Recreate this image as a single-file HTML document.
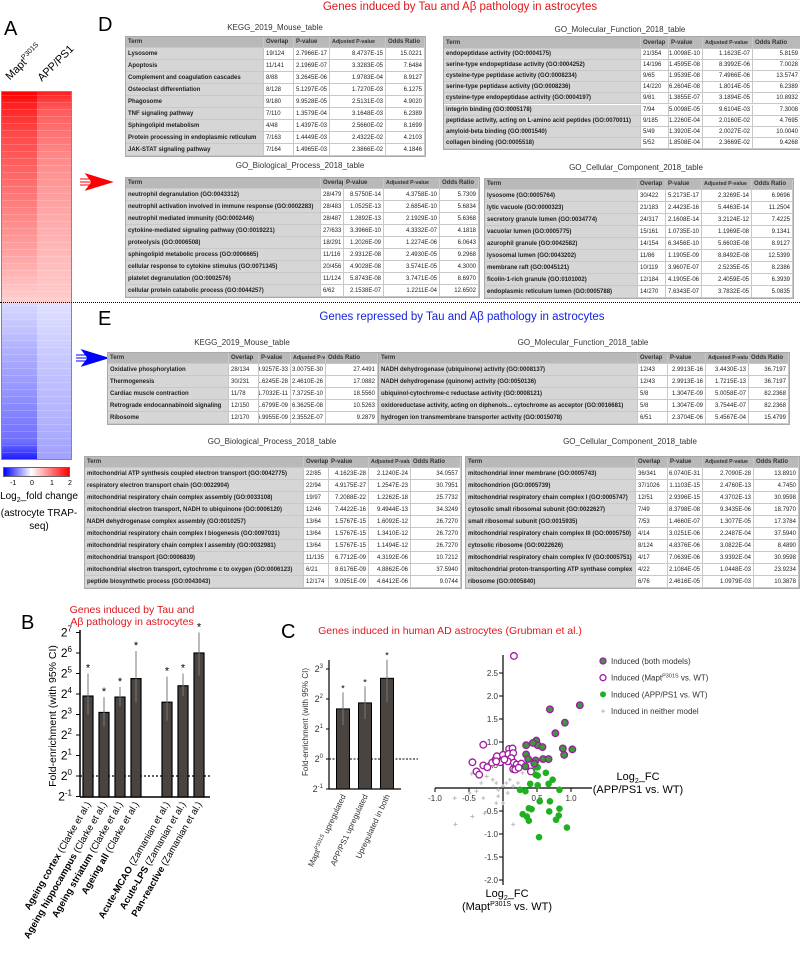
<!DOCTYPE html>
<html><head><meta charset="utf-8">
<style>
html,body{margin:0;padding:0;background:#fff;}
body{width:800px;height:960px;position:relative;overflow:hidden;font-family:"Liberation Sans",sans-serif;}
.abs{position:absolute;}
.tt{position:absolute;font-size:8px;color:#333;white-space:nowrap;transform:translateX(-50%);}
.tbl{position:absolute;font-size:6px;color:#222;border:1px solid #aaa;background:#fff;}
.row{position:absolute;left:0;display:flex;}
.cell{box-sizing:border-box;height:100%;border-right:1px solid #c8c8c8;border-bottom:1px solid #c8c8c8;white-space:nowrap;overflow:hidden;padding:0 2px;display:flex;align-items:center;}
.hd{background:#b9b9b9;font-weight:bold;color:#333;}
.term{background:#d6d6d6;font-weight:bold;}
.num{justify-content:flex-end;}
.sec{position:absolute;font-size:11.5px;white-space:nowrap;transform:translateX(-50%);}
.lbl{position:absolute;font-size:20px;}
</style></head>
<body>
<div class="lbl" style="left:4px;top:18px;">A</div>
<div class="lbl" style="left:98px;top:14px;">D</div>
<div class="lbl" style="left:98px;top:308px;">E</div>
<div class="lbl" style="left:21px;top:612px;">B</div>
<div class="lbl" style="left:281px;top:621px;">C</div>

<div class="sec" style="left:460px;top:1px;color:#e0161b;">Genes induced by Tau and Aβ pathology in astrocytes</div>
<div class="sec" style="left:462px;top:311px;color:#1424e0;">Genes repressed by Tau and Aβ pathology in astrocytes</div>

<!-- heatmap -->
<div class="abs" style="left:12px;top:70px;font-size:11px;transform:rotate(-45deg);transform-origin:0 100%;white-space:nowrap;">Mapt<sup style="font-size:7px">P301S</sup></div>
<div class="abs" style="left:44px;top:72px;font-size:11px;transform:rotate(-45deg);transform-origin:0 100%;white-space:nowrap;">APP/PS1</div>
<div class="abs" style="left:1px;top:91px;width:71px;height:369px;border:1px solid #888;box-sizing:border-box;overflow:hidden;">
  <div class="abs" style="left:0;top:0;width:35px;height:211px;background:linear-gradient(#ff0000 0%,#ff2020 6%,#ff4848 20%,#ff7878 50%,#ffa8a8 80%,#ffd0d0 100%);"></div>
  <div class="abs" style="left:35px;top:0;width:36px;height:211px;background:linear-gradient(#ff2020 0%,#ff5a5a 8%,#ff8888 30%,#ffaaaa 60%,#ffcccc 100%);"></div>
  <div class="abs" style="left:0;top:211px;width:35px;height:158px;background:linear-gradient(#d8d8ff 0%,#b0b0ff 30%,#9090ff 60%,#6e6eff 88%,#1414ff 100%);"></div>
  <div class="abs" style="left:35px;top:211px;width:36px;height:158px;background:linear-gradient(#e0e0ff 0%,#c4c4ff 40%,#b4b4ff 70%,#a0a0ff 100%);"></div>
  <div class="abs" style="left:0;top:0;width:71px;height:369px;background:repeating-linear-gradient(rgba(255,255,255,0) 0px,rgba(255,255,255,0) 3px,rgba(255,255,255,0.18) 3px,rgba(255,255,255,0.18) 4px,rgba(255,255,255,0) 4px,rgba(255,255,255,0) 7px);"></div>
</div>
<div class="abs" style="left:0;top:302px;width:800px;border-top:1.5px dotted #000;"></div>
<div class="abs" style="left:3px;top:467px;width:67px;height:10px;border:1px solid #666;box-sizing:border-box;background:linear-gradient(90deg,#0000ff 0%,#ffffff 42%,#ff0000 100%);"></div>
<div class="abs" style="left:0;top:480px;font-size:7px;width:80px;height:10px;">
  <span class="abs" style="left:10px">-1</span><span class="abs" style="left:30px">0</span><span class="abs" style="left:50px">1</span><span class="abs" style="left:68px">2</span></div>
<div class="abs" style="left:-6px;top:490px;width:90px;text-align:center;font-size:10px;line-height:13px;white-space:nowrap;">Log<sub style="font-size:7px">2</sub>_fold change<br>(astrocyte TRAP-<br>seq)</div>

<svg class="abs" style="left:0;top:0" width="800" height="960">
  <g fill="#f00" stroke="#f00">
    <polygon points="86,174 112,182 86,190 92,182"/>
    <line x1="80" y1="179" x2="92" y2="179"/><line x1="80" y1="182" x2="92" y2="182"/><line x1="80" y1="185" x2="92" y2="185"/>
  </g>
  <g fill="#00f" stroke="#00f">
    <polygon points="82,350 108,358 82,366 88,358"/>
    <line x1="76" y1="355" x2="88" y2="355"/><line x1="76" y1="358" x2="88" y2="358"/><line x1="76" y1="361" x2="88" y2="361"/>
  </g>
  <g id="chartB"></g>
  <g id="chartC"></g>
  <g id="scatter"></g>
</svg>

<div class="sec" style="left:132px;top:604px;color:#e0161b;font-size:10.5px;text-align:center;line-height:12px;">Genes induced by Tau and<br>Aβ pathology in astrocytes</div>
<div class="sec" style="left:450px;top:625px;color:#e0161b;font-size:10.5px;">Genes induced in human AD astrocytes (Grubman et al.)</div>

<script>
// ---------- Panel B data ----------
const bCats = ["Ageing cortex","Ageing hippocampus","Ageing striatum","Ageing all","Acute-MCAO","Acute-LPS","Pan-reactive"];
const bRefs = ["(Clarke et al.)","(Clarke et al.)","(Clarke et al.)","(Clarke et al.)","(Zamanian et al.)","(Zamanian et al.)","(Zamanian et al.)"];
const bVals = [3.9, 3.1, 3.85, 4.75, 3.6, 4.4, 6.0];
const bLow = [3.0, 2.4, 3.4, 3.6, 2.7, 3.9, 4.9];
const bHigh = [5.0, 3.85, 4.35, 6.1, 4.85, 5.0, 7.0];
const bTicks = [-1,0,1,2,3,4,5,6,7];
// ---------- Panel C bar data ----------
const cCats = ["Mapt","APP/PS1 upregulated","Upregulated in both"];
const cVals = [1.67, 1.87, 2.69];
const cLow = [1.13, 1.33, 1.89];
const cHigh = [2.22, 2.42, 3.31];
const cTicks = [-1,0,1,2,3];
// ---------- Scatter data (x = APP/PS1 log2FC, y = Mapt log2FC) ----------
const bothX = [0.69,1.13,0.91,0.77,0.88,1.02,0.90,0.34,0.49,0.51,0.58,0.59,0.67,0.34,0.37,0.48,0.46,0.33,0.44];
const bothY = [1.71,1.80,1.42,1.19,0.86,0.84,0.72,0.93,1.03,0.93,0.89,0.63,0.63,0.73,0.63,0.60,0.53,0.47,0.98];
const maptX = [0.16,-0.29,-0.45,-0.39,-0.35,-0.29,-0.23,-0.16,-0.11,-0.09,-0.04,0.0,0.09,0.14,0.08,0.15,0.12,0.07,0.16,0.20,0.27,0.15,0.18,0.23,0.41,-0.10,0.02];
const maptY = [2.87,0.94,0.56,0.36,0.29,0.49,0.45,0.55,0.62,0.69,0.56,0.72,0.85,0.86,0.74,0.76,0.65,0.58,0.55,0.51,0.53,0.41,0.40,0.44,0.36,0.58,0.62];
const appX = [0.48,0.51,0.63,0.48,0.51,0.73,0.40,0.51,0.67,0.25,0.33,0.83,0.54,0.69,0.38,0.42,0.83,0.29,0.35,0.38,0.68,0.82,0.78,0.94,0.53];
const appY = [0.45,0.45,0.33,0.29,0.27,0.18,0.09,0.06,0.09,-0.04,-0.07,-0.04,-0.29,-0.29,-0.44,-0.46,-0.45,-0.57,-0.62,-0.71,-0.51,-0.60,-0.69,-0.86,-1.07];
const noneX = [-0.46,-0.32,-0.24,-0.15,-0.10,-0.07,0.0,0.05,0.10,0.15,0.22,0.29,-0.07,-0.10,0.0,-0.27,-0.45,-0.70,0.15,-0.71,-0.39,-0.29,-0.49,0.07];
const noneY = [0.31,0.11,0.25,0.18,0.11,-0.04,0.04,0.11,0.18,0.04,0.11,0.33,-0.18,-0.33,-0.33,-0.55,-0.62,-0.79,-0.79,-0.22,-0.07,-0.22,-0.11,-0.11];
const sxTicks = [-1.0,-0.5,0.5,1.0];
const syTicks = [2.5,2.0,1.5,1.0,0.5,-0.5,-1.0,-1.5,-2.0];

const NS = "http://www.w3.org/2000/svg";
function mk(parent, tag, attrs){ const e=document.createElementNS(NS,tag); for(const k in attrs) e.setAttribute(k,attrs[k]); parent.appendChild(e); return e; }

// ---------- Panel B ----------
(function(){
  const g=document.getElementById('chartB');
  const yB=v=>776-v*20.5;
  const xB=i=>88+i*16+(i>=4?15:0);
  const yax=mk(g,'line',{x1:80,y1:630,x2:80,y2:797,stroke:'#000','stroke-width':1.5});
  
  
  const xax=mk(g,'line',{x1:80,y1:797,x2:210,y2:797,stroke:'#000','stroke-width':1.5});
  
  
  bTicks.forEach(t=>{
    mk(g,'line',{x1:76,y1:yB(t),x2:80,y2:yB(t),stroke:'#000'});
    const tx=mk(g,'text',{x:72,y:yB(t)+4,'font-size':12,'text-anchor':'end','font-family':'Liberation Sans'});
    
    
    tx.innerHTML='2<tspan dy="-5" font-size="8">'+t+'</tspan>';
  });
  const dl=mk(g,'line',{x1:80,y1:yB(0),x2:210,y2:yB(0),stroke:'#000','stroke-dasharray':'2,2','stroke-width':1.2});
  
  
  const yt=mk(g,'text',{x:0,y:0,'font-size':10.5,'text-anchor':'middle','font-family':'Liberation Sans',transform:'translate(56,716) rotate(-90)'});
  
  
  yt.textContent='Fold-enrichment (with 95% CI)';
  bVals.forEach((v,i)=>{
    const x=xB(i);
    const r=mk(g,'rect',{x:x-5,y:yB(v),width:10,height:797-yB(v),fill:'#4a4440',stroke:'#000','stroke-width':1.2});
    
    
    const e=mk(g,'line',{x1:x,y1:yB(bHigh[i]),x2:x,y2:yB(bLow[i]),stroke:'#777','stroke-width':1});
    
    
    const s=mk(g,'text',{x:x,y:yB(bHigh[i])-2,'font-size':11,'text-anchor':'middle','font-family':'Liberation Sans'});
    
    
    s.textContent='*';
    const t=mk(g,'text',{x:0,y:0,'font-size':9.5,'text-anchor':'end','font-family':'Liberation Sans',transform:'translate('+(x+3)+',804) rotate(-60)'});
    
    
    t.innerHTML='<tspan font-weight="bold">'+bCats[i]+'</tspan> '+bRefs[i];
  });
})();

// ---------- Panel C bars ----------
(function(){
  const g=document.getElementById('chartC');
  const yC=v=>759-v*30;
  const xC=i=>343+i*22;
  const a1=mk(g,'line',{x1:329,y1:660,x2:329,y2:789,stroke:'#000','stroke-width':1.2});
  
  
  const a2=mk(g,'line',{x1:329,y1:789,x2:401,y2:789,stroke:'#000','stroke-width':1.2});
  
  
  cTicks.forEach(t=>{
    mk(g,'line',{x1:326,y1:yC(t),x2:329,y2:yC(t),stroke:'#000'});
    const tx=mk(g,'text',{x:323,y:yC(t)+3,'font-size':9,'text-anchor':'end','font-family':'Liberation Sans',fill:'#333'});
    
    
    tx.innerHTML='2<tspan dy="-4" font-size="6">'+t+'</tspan>';
  });
  const dl=mk(g,'line',{x1:329,y1:yC(0),x2:418,y2:yC(0),stroke:'#000','stroke-dasharray':'2,1.5','stroke-width':1});
  
  
  const yt=mk(g,'text',{x:0,y:0,'font-size':8,'text-anchor':'middle','font-family':'Liberation Sans',fill:'#333',transform:'translate(308,722) rotate(-90)'});
  
  
  yt.textContent='Fold-enrichment (with 95% CI)';
  cVals.forEach((v,i)=>{
    const x=xC(i);
    const r=mk(g,'rect',{x:x-6.5,y:yC(v),width:13,height:789-yC(v),fill:'#4a4440',stroke:'#000','stroke-width':1});
    
    
    const e=mk(g,'line',{x1:x,y1:yC(cHigh[i]),x2:x,y2:yC(cLow[i]),stroke:'#777','stroke-width':1});
    
    
    const s=mk(g,'text',{x:x,y:yC(cHigh[i])-1,'font-size':9,'text-anchor':'middle','font-family':'Liberation Sans'});
    
    
    s.textContent='*';
    const t=mk(g,'text',{x:0,y:0,'font-size':8,'text-anchor':'end','font-family':'Liberation Sans',fill:'#333',transform:'translate('+(x+3)+',796) rotate(-65)'});
    
    
    if(i===0) t.innerHTML='Mapt<tspan dy="-3" font-size="5.5">P301S</tspan><tspan dy="3"> upregulated</tspan>';
    else t.textContent=cCats[i];
  });
})();

// ---------- Scatter ----------
(function(){
  const g=document.getElementById('scatter');
  const sx=v=>503+v*68;
  const sy=v=>788-v*46;
  const ya=mk(g,'line',{x1:503,y1:655,x2:503,y2:885,stroke:'#000','stroke-width':1.2});
  
  
  const xa=mk(g,'line',{x1:435,y1:788,x2:592,y2:788,stroke:'#000','stroke-width':1.2});
  
  
  sxTicks.forEach(t=>{
    mk(g,'line',{x1:sx(t),y1:788,x2:sx(t),y2:792,stroke:'#000'});
    const tx=mk(g,'text',{x:sx(t),y:801,'font-size':8,'text-anchor':'middle','font-family':'Liberation Sans',fill:'#333'});
    
    
    tx.textContent=t.toFixed(1);
  });
  syTicks.forEach(t=>{
    mk(g,'line',{x1:499,y1:sy(t),x2:503,y2:sy(t),stroke:'#000'});
    const tx=mk(g,'text',{x:498,y:sy(t)+3,'font-size':8,'text-anchor':'end','font-family':'Liberation Sans',fill:'#333'});
    
    
    tx.textContent=t.toFixed(1);
  });
  noneX.forEach((x,i)=>{
    const p=mk(g,'path',{d:'M'+(sx(x)-2)+' '+sy(noneY[i])+'h4M'+sx(x)+' '+(sy(noneY[i])-2)+'v4',stroke:'#bbb','stroke-width':1});
    
    
  });
  maptX.forEach((x,i)=>{
    const c=mk(g,'circle',{cx:sx(x),cy:sy(maptY[i]),r:3.3,fill:'#fff',stroke:'#a01aa0','stroke-width':1.3});
    
    
  });
  appX.forEach((x,i)=>{
    const c=mk(g,'circle',{cx:sx(x),cy:sy(appY[i]),r:3.3,fill:'#1fb01f'});
    
    
  });
  bothX.forEach((x,i)=>{
    const c=mk(g,'circle',{cx:sx(x),cy:sy(bothY[i]),r:3.3,fill:'#3a9a3a',stroke:'#a01aa0','stroke-width':1.3});
    
    
  });
  const xt=mk(g,'text',{x:638,y:780,'font-size':11,'text-anchor':'middle','font-family':'Liberation Sans'});
  
  
  xt.innerHTML='Log<tspan dy="3" font-size="7">2</tspan><tspan dy="-3">_FC</tspan><tspan x="638" dy="13">(APP/PS1 vs. WT)</tspan>';
  const yt=mk(g,'text',{x:507,y:897,'font-size':11,'text-anchor':'middle','font-family':'Liberation Sans'});
  
  
  yt.innerHTML='Log<tspan dy="3" font-size="7">2</tspan><tspan dy="-3">_FC</tspan><tspan x="507" dy="13">(Mapt</tspan><tspan dy="-4" font-size="7">P301S</tspan><tspan dy="4"> vs. WT)</tspan>';
  const legTxt=['Induced (both models)','Induced (Mapt<tspan dy="-3" font-size="5.5">P301S</tspan><tspan dy="3"> vs. WT)</tspan>','Induced (APP/PS1 vs. WT)','Induced in neither model'];
  legTxt.forEach((t,i)=>{
    const y=661+i*16.7;
    let m;
    if(i===0) m=mk(g,'circle',{cx:603,cy:y,r:3,fill:'#3a9a3a',stroke:'#a01aa0','stroke-width':1.3});
    else if(i===1) m=mk(g,'circle',{cx:603,cy:y,r:3,fill:'#fff',stroke:'#a01aa0','stroke-width':1.3});
    else if(i===2) m=mk(g,'circle',{cx:603,cy:y,r:3,fill:'#1fb01f'});
    else m=mk(g,'path',{d:'M601 '+y+'h4M603 '+(y-2)+'v4',stroke:'#bbb'});
    
    
    const tx=mk(g,'text',{x:611,y:y+3,'font-size':8,'font-family':'Liberation Sans',fill:'#333'});
    
    
    tx.innerHTML=t;
  });
})();

// ---------- Tables ----------
const tables = [
 {name:'d-kegg',title:'KEGG_2019_Mouse_table',tx:275,ty:23,x:125,y:36,hh:11,rh:12,w:[138,30,36,56,39],rows:[
  ['Lysosome','19/124','2.7966E-17','8.4737E-15','15.0221'],
  ['Apoptosis','11/141','2.1969E-07','3.3283E-05','7.6484'],
  ['Complement and coagulation cascades','8/88','3.2645E-06','1.9783E-04','8.9127'],
  ['Osteoclast differentiation','8/128','5.1297E-05','1.7270E-03','6.1275'],
  ['Phagosome','9/180','9.9528E-05','2.5131E-03','4.9020'],
  ['TNF signaling pathway','7/110','1.3579E-04','3.1648E-03','6.2389'],
  ['Sphingolipid metabolism','4/48','1.4397E-03','2.5660E-02','8.1699'],
  ['Protein processing in endoplasmic reticulum','7/163','1.4449E-03','2.4322E-02','4.2103'],
  ['JAK-STAT signaling pathway','7/164','1.4965E-03','2.3866E-02','4.1846']]},
 {name:'d-mf',title:'GO_Molecular_Function_2018_table',tx:620,ty:25,x:443,y:36,hh:12,rh:11.1,w:[197,28,34,50,48],rows:[
  ['endopeptidase activity (GO:0004175)','21/354','1.0098E-10','1.1623E-07','5.8159'],
  ['serine-type endopeptidase activity (GO:0004252)','14/196','1.4595E-08','8.3992E-06','7.0028'],
  ['cysteine-type peptidase activity (GO:0008234)','9/65','1.9539E-08','7.4966E-06','13.5747'],
  ['serine-type peptidase activity (GO:0008236)','14/220','6.2604E-08','1.8014E-05','6.2389'],
  ['cysteine-type endopeptidase activity (GO:0004197)','9/81','1.3855E-07','3.1894E-05','10.8932'],
  ['integrin binding (GO:0005178)','7/94','5.0098E-05','9.6104E-03','7.3008'],
  ['peptidase activity, acting on L-amino acid peptides (GO:0070011)','9/185','1.2260E-04','2.0160E-02','4.7695'],
  ['amyloid-beta binding (GO:0001540)','5/49','1.3920E-04','2.0027E-02','10.0040'],
  ['collagen binding (GO:0005518)','5/52','1.8508E-04','2.3669E-02','9.4268']]},
 {name:'d-bp',title:'GO_Biological_Process_2018_table',tx:300,ty:161,x:125,y:177,hh:11,rh:12,w:[195,23,40,56,39],rows:[
  ['neutrophil degranulation (GO:0043312)','28/479','8.5750E-14','4.3758E-10','5.7309'],
  ['neutrophil activation involved in immune response (GO:0002283)','28/483','1.0525E-13','2.6854E-10','5.6834'],
  ['neutrophil mediated immunity (GO:0002446)','28/487','1.2892E-13','2.1929E-10','5.6368'],
  ['cytokine-mediated signaling pathway (GO:0019221)','27/633','3.3966E-10','4.3332E-07','4.1818'],
  ['proteolysis (GO:0006508)','18/291','1.2026E-09','1.2274E-06','6.0643'],
  ['sphingolipid metabolic process (GO:0006665)','11/116','2.9312E-08','2.4930E-05','9.2968'],
  ['cellular response to cytokine stimulus (GO:0071345)','20/456','4.9028E-08','3.5741E-05','4.3000'],
  ['platelet degranulation (GO:0002576)','11/124','5.8743E-08','3.7471E-05','8.6970'],
  ['cellular protein catabolic process (GO:0044257)','6/62','2.1538E-07','1.2211E-04','12.6502']]},
 {name:'d-cc',title:'GO_Cellular_Component_2018_table',tx:636,ty:163,x:484,y:178,hh:11,rh:12,w:[153,28,36,50,41],rows:[
  ['lysosome (GO:0005764)','30/422','5.2173E-17','2.3269E-14','6.9696'],
  ['lytic vacuole (GO:0000323)','21/183','2.4423E-16','5.4463E-14','11.2504'],
  ['secretory granule lumen (GO:0034774)','24/317','2.1608E-14','3.2124E-12','7.4225'],
  ['vacuolar lumen (GO:0005775)','15/161','1.0735E-10','1.1969E-08','9.1341'],
  ['azurophil granule (GO:0042582)','14/154','6.3456E-10','5.6603E-08','8.9127'],
  ['lysosomal lumen (GO:0043202)','11/86','1.1905E-09','8.8492E-08','12.5399'],
  ['membrane raft (GO:0045121)','10/119','3.9607E-07','2.5235E-05','8.2386'],
  ['ficolin-1-rich granule (GO:0101002)','12/184','4.1905E-06','2.4059E-05','6.3939'],
  ['endoplasmic reticulum lumen (GO:0005788)','14/270','7.6343E-07','3.7832E-05','5.0835']]},
 {name:'e-kegg',title:'KEGG_2019_Mouse_table',tx:242,ty:338,x:107,y:352,hh:11,rh:12,w:[121,30,32,35,52],rows:[
  ['Oxidative phosphorylation','28/134','9.9257E-33','3.0075E-30','27.4491'],
  ['Thermogenesis','30/231','1.6245E-28','2.4610E-26','17.0882'],
  ['Cardiac muscle contraction','11/78','1.7032E-11','7.3725E-10','18.5560'],
  ['Retrograde endocannabinoid signaling','12/150','1.6799E-09','6.3625E-08','10.5263'],
  ['Ribosome','12/170','6.9955E-09','2.3552E-07','9.2879']]},
 {name:'e-mf',title:'GO_Molecular_Function_2018_table',tx:583,ty:338,x:378,y:352,hh:11,rh:12,w:[259,30,38,43,40],rows:[
  ['NADH dehydrogenase (ubiquinone) activity (GO:0008137)','12/43','2.9913E-16','3.4430E-13','36.7197'],
  ['NADH dehydrogenase (quinone) activity (GO:0050136)','12/43','2.9913E-16','1.7215E-13','36.7197'],
  ['ubiquinol-cytochrome-c reductase activity (GO:0008121)','5/8','1.3047E-09','5.0058E-07','82.2368'],
  ['oxidoreductase activity, acting on diphenols... cytochrome as acceptor (GO:0016681)','5/8','1.3047E-09','3.7544E-07','82.2368'],
  ['hydrogen ion transmembrane transporter activity (GO:0015078)','6/51','2.3704E-06','5.4567E-04','15.4799']]},
 {name:'e-bp',title:'GO_Biological_Process_2018_table',tx:272,ty:437,x:84,y:456,hh:11,rh:12,w:[219,25,40,42,50],rows:[
  ['mitochondrial ATP synthesis coupled electron transport (GO:0042775)','22/85','4.1623E-28','2.1240E-24','34.0557'],
  ['respiratory electron transport chain (GO:0022904)','22/94','4.9175E-27','1.2547E-23','30.7951'],
  ['mitochondrial respiratory chain complex assembly (GO:0033108)','19/97','7.2088E-22','1.2262E-18','25.7732'],
  ['mitochondrial electron transport, NADH to ubiquinone (GO:0006120)','12/46','7.4422E-16','9.4944E-13','34.3249'],
  ['NADH dehydrogenase complex assembly (GO:0010257)','13/64','1.5767E-15','1.6092E-12','26.7270'],
  ['mitochondrial respiratory chain complex I biogenesis (GO:0097031)','13/64','1.5767E-15','1.3410E-12','26.7270'],
  ['mitochondrial respiratory chain complex I assembly (GO:0032981)','13/64','1.5767E-15','1.1494E-12','26.7270'],
  ['mitochondrial transport (GO:0006839)','11/135','6.7712E-09','4.3192E-06','10.7212'],
  ['mitochondrial electron transport, cytochrome c to oxygen (GO:0006123)','6/21','8.6176E-09','4.8862E-06','37.5940'],
  ['peptide biosynthetic process (GO:0043043)','12/174','9.0951E-09','4.6412E-06','9.0744']]},
 {name:'e-cc',title:'GO_Cellular_Component_2018_table',tx:630,ty:437,x:465,y:456,hh:11,rh:12,w:[170,32,35,51,45],rows:[
  ['mitochondrial inner membrane (GO:0005743)','36/341','6.0740E-31','2.7090E-28','13.8910'],
  ['mitochondrion (GO:0005739)','37/1026','1.1103E-15','2.4760E-13','4.7450'],
  ['mitochondrial respiratory chain complex I (GO:0005747)','12/51','2.9396E-15','4.3702E-13','30.9598'],
  ['cytosolic small ribosomal subunit (GO:0022627)','7/49','8.3798E-08','9.3435E-06','18.7970'],
  ['small ribosomal subunit (GO:0015935)','7/53','1.4660E-07','1.3077E-05','17.3784'],
  ['mitochondrial respiratory chain complex III (GO:0005750)','4/14','3.0251E-06','2.2487E-04','37.5940'],
  ['cytosolic ribosome (GO:0022626)','8/124','4.8376E-06','3.0822E-04','8.4890'],
  ['mitochondrial respiratory chain complex IV (GO:0005751)','4/17','7.0639E-06','3.9392E-04','30.9598'],
  ['mitochondrial proton-transporting ATP synthase complex','4/22','2.1084E-05','1.0448E-03','23.9234'],
  ['ribosome (GO:0005840)','6/76','2.4616E-05','1.0979E-03','10.3878']]}
];
const headers=['Term','Overlap','P-value','Adjusted P-value','Odds Ratio'];
tables.forEach(T=>{
  const tt=document.createElement('div');
  tt.className='tt';
  tt.style.left=T.tx+'px'; tt.style.top=T.ty+'px';
  tt.textContent=T.title;
  
  
  document.body.appendChild(tt);
  const tw=T.w.reduce((a,b)=>a+b,0);
  const tb=document.createElement('div');
  tb.className='tbl';
  tb.style.left=T.x+'px'; tb.style.top=T.y+'px';
  tb.style.width=tw+'px'; tb.style.height=(T.hh+T.rows.length*T.rh)+'px';
  
  
  const all=[headers].concat(T.rows);
  all.forEach((r,ri)=>{
    const row=document.createElement('div');
    row.className='row';
    row.style.top=(ri===0?0:T.hh+(ri-1)*T.rh)+'px';
    row.style.height=(ri===0?T.hh:T.rh)+'px';
    
    
    r.forEach((c,ci)=>{
      const cell=document.createElement('div');
      cell.className='cell'+(ri===0?' hd':(ci===0?' term':(ci>=2?' num':'')));
      if(ri===0 && ci===3) cell.style.fontSize='5.3px';
      cell.style.width=T.w[ci]+'px';
      cell.textContent=c;
      
      
      row.appendChild(cell);
    });
    tb.appendChild(row);
  });
  document.body.appendChild(tb);
});
</script>
</body></html>
